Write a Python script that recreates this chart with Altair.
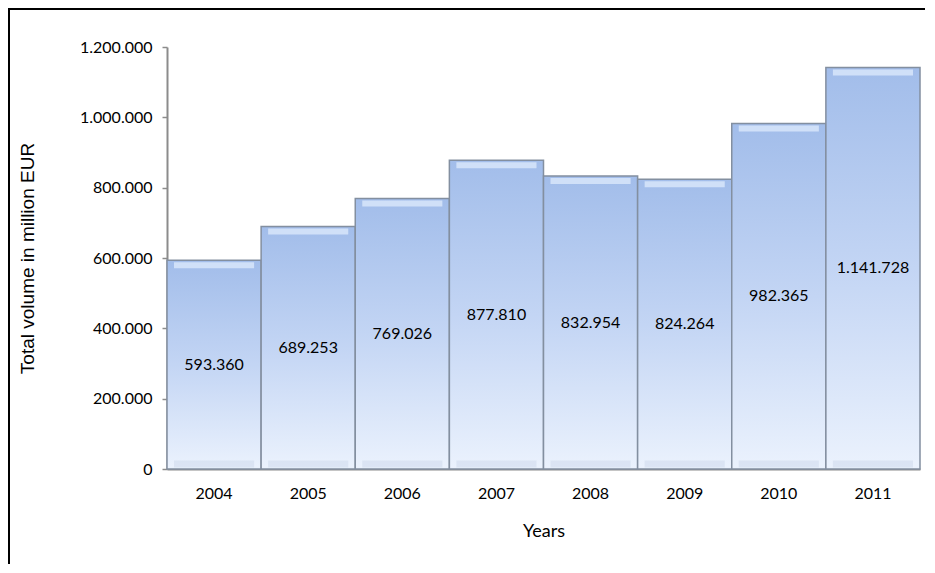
import altair as alt
import pandas as pd

years = ["2004", "2005", "2006", "2007", "2008", "2009", "2010", "2011"]
volumes = [593360, 689253, 769026, 877810, 832954, 824264, 982365, 1141728]
y_ticks = [0, 200000, 400000, 600000, 800000, 1000000, 1200000]

df = pd.DataFrame({"year": years, "volume": volumes})

W, H = 753, 422
FONT = "Lato"

base = alt.Chart(df)

x_enc = alt.X(
    "year:N",
    sort=years,
    scale=alt.Scale(paddingInner=0, paddingOuter=0),
    axis=alt.Axis(
        title="Years", ticks=False, labelPadding=16, labelAngle=0,
        labelFont=FONT, labelFontSize=16, labelColor="#000",
        titleFont=FONT, titleFontSize=18, titleFontWeight="normal", titleColor="#000",
        titleY=62, titleBaseline="middle",
        domainColor="#8c8c8c", domainWidth=2,
    ),
)
y_scale = alt.Scale(domain=[0, 1200000], nice=False)

bars = base.mark_bar(
    color=alt.Gradient(
        gradient="linear",
        stops=[alt.GradientStop(color="#a2bdea", offset=0),
               alt.GradientStop(color="#c3d5f4", offset=0.5),
               alt.GradientStop(color="#ebf2fd", offset=1)],
        x1=0, x2=0, y1=0, y2=1,
    ),
    stroke="#838fa0", strokeWidth=1.5,
).encode(
    x=x_enc,
    y=alt.Y(
        "volume:Q", scale=y_scale,
        axis=alt.Axis(
            values=y_ticks, format=",d", grid=False,
            title="Total volume in million EUR",
            labelFont=FONT, labelFontSize=16, labelColor="#000", labelPadding=10,
            tickColor="#8c8c8c", tickSize=5, tickWidth=1.5,
            domainColor="#8c8c8c", domainWidth=2,
            titleFont="Liberation Sans", titleFontSize=19, titleFontWeight="normal",
            titleColor="#000", titleX=-140, titleY=H / 2, titleAngle=-90,
            titleAlign="center", titleBaseline="middle",
        ),
    ),
)

top_bevel = base.mark_tick(
    color="#dbe9fb", thickness=6, size=W / 8 - 14, yOffset=5, opacity=0.8,
).encode(x=alt.X("year:N", sort=years), y=alt.Y("volume:Q", scale=y_scale))

bottom_bevel = base.mark_tick(
    color="#c9d5e8", thickness=7, size=W / 8 - 14, yOffset=-5, opacity=0.45,
).encode(x=alt.X("year:N", sort=years), y=alt.datum(0, scale=y_scale))

labels = base.transform_calculate(mid="datum.volume / 2").mark_text(
    font=FONT, fontSize=16, color="#000", baseline="middle",
).encode(
    x=alt.X("year:N", sort=years),
    y=alt.Y("mid:Q", scale=y_scale),
    text=alt.Text("volume:Q", format=",d"),
)

frame = alt.Chart(alt.Data(values=[{}])).mark_rect(
    fill=None, stroke="#000", strokeWidth=2, clip=False,
).encode(
    x=alt.value(-158), x2=alt.value(W + 60),
    y=alt.value(-38), y2=alt.value(H + 200),
)

chart = alt.layer(bars, bottom_bevel, top_bevel, labels, frame).properties(
    width=W, height=H,
    autosize=alt.AutoSizeParams(type="none"),
    padding={"left": 159, "top": 39, "right": 5, "bottom": 95},
).configure(
    locale=alt.Locale(number=alt.NumberLocale(
        decimal=",", thousands=".", grouping=[3], currency=["", " €"])),
).configure_view(stroke=None)

chart.save("out.html", embed_options={"renderer": "svg", "actions": False})
